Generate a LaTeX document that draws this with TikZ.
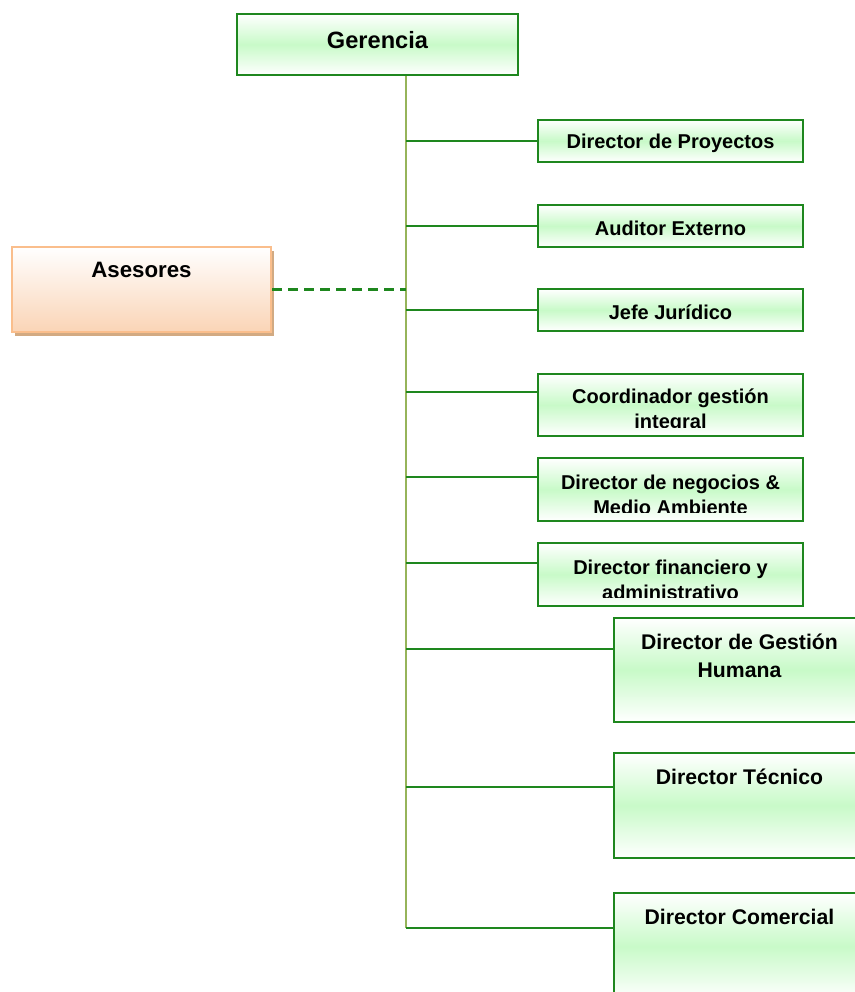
\documentclass[tikz,border=0pt]{standalone}
\usepackage{fontspec}
\setmainfont{Liberation Sans}
\usetikzlibrary{shadows}
\definecolor{gborder}{RGB}{30,135,30}
\definecolor{gfill}{RGB}{200,250,200}
\definecolor{trunkc}{RGB}{150,180,90}
\definecolor{obord}{RGB}{250,190,140}
\definecolor{ofill}{RGB}{250,212,182}
\definecolor{oshadow}{RGB}{210,170,130}
\begin{document}
\begin{tikzpicture}[x=0.75pt,y=-0.75pt,
  gbox/.style={draw=gborder, line width=1.5pt, top color=white, bottom color=white, middle color=gfill, inner sep=0pt},
  sbox/.style={gbox, minimum width=198.75pt},
  lbox/.style={gbox, minimum width=188.25pt},
  stxt/.style={font=\bfseries\fontsize{15}{18.75}\selectfont, align=center, inner sep=0pt},
  ltxt/.style={font=\bfseries\fontsize{15.9}{21}\selectfont, align=center, inner sep=0pt},
  trunk/.style={draw=trunkc, line width=1.6pt},
  branch/.style={draw=gborder, line width=1.8pt},
  dashlink/.style={draw=gborder, line width=1.8pt, dash pattern=on 7.5pt off 4.5pt}]
\useasboundingbox (0,0) rectangle (855,992);
\coordinate (tk) at (406,75);

% boxes (geometry)
\node[gbox, line width=1.8pt, minimum width=210.75pt, minimum height=45.75pt] (ger) at (377.5,44.5) {};
\node[sbox, minimum height=31.5pt] (p1) at (670.5,141) {};
\node[sbox, minimum height=31.5pt] (p2) at (670.5,226) {};
\node[sbox, minimum height=31.5pt] (p3) at (670.5,310) {};
\node[sbox, minimum height=46.5pt] (p4) at (670.5,405) {};
\node[sbox, minimum height=47.25pt] (p5) at (670.5,489.5) {};
\node[sbox, minimum height=47.25pt] (p6) at (670.5,574.5) {};
\node[lbox, minimum height=78pt] (q1) at (739.5,670) {};
\node[lbox, minimum height=78.75pt] (q2) at (739.5,805.5) {};
\node[lbox, minimum height=80.25pt] (q3) at (739.5,946.5) {};
\node[draw=obord, line width=1.5pt, top color=white, bottom color=ofill, minimum width=194.25pt, minimum height=63.75pt,
      drop shadow={shadow xshift=2.25pt, shadow yshift=-3pt, fill=oshadow, opacity=1}] (ases) at (141.5,289.5) {};

% branch points on the box edges
\coordinate (b4) at (p4.west |- 0,392);
\coordinate (b5) at (p5.west |- 0,477);
\coordinate (b6) at (p6.west |- 0,563);
\coordinate (b7) at (q1.west |- 0,649);
\coordinate (b8) at (q2.west |- 0,787);
\coordinate (b9) at (q3.west |- 0,928);

% connectors
\draw[trunk] (ger.south -| tk) -- (b9 -| tk);
\draw[branch] (p1.west -| tk) -- (p1.west);
\draw[branch] (p2.west -| tk) -- (p2.west);
\draw[branch] (p3.west -| tk) -- (p3.west);
\draw[branch] (b4 -| tk) -- (b4);
\draw[branch] (b5 -| tk) -- (b5);
\draw[branch] (b6 -| tk) -- (b6);
\draw[branch] (b7 -| tk) -- (b7);
\draw[branch] (b8 -| tk) -- (b8);
\draw[branch] (b9 -| tk) -- (b9);
\draw[dashlink] (ases.east) -- (ases.east -| tk);

% texts
\node[font=\bfseries\fontsize{17.7}{21}\selectfont, inner sep=0pt] (gerT) at (377.5,40) {Gerencia};
\node[stxt] (p1T) at (670.5,143.5) {Director de Proyectos};
\node[stxt] (p2T) at (670.5,228.5) {Auditor Externo};
\node[stxt] (p3T) at (670.5,312.5) {Jefe Jurídico};
\begin{scope}
\clip (538,374) rectangle (803,427.5);
\node[stxt] (p4T) at (670.5,410.5) {Coordinador gestión\\integral};
\end{scope}
\begin{scope}
\clip (538,458) rectangle (803,512.5);
\node[stxt] (p5T) at (670.5,494.5) {Director de negocios \&\\Medio Ambiente};
\end{scope}
\begin{scope}
\clip (538,543) rectangle (803,597.5);
\node[stxt] (p6T) at (670.5,579.5) {Director financiero y\\administrativo};
\end{scope}
\node[ltxt] (q1T) at (739.5,656) {Director de Gestión\\Humana};
\node[ltxt] (q2T) at (739.5,777) {Director Técnico};
\node[ltxt] (q3T) at (739.5,917) {Director Comercial};
\node[font=\bfseries\fontsize{16.7}{20}\selectfont, inner sep=0pt] (asesT) at (141.5,270) {Asesores};
\end{tikzpicture}
\end{document}
